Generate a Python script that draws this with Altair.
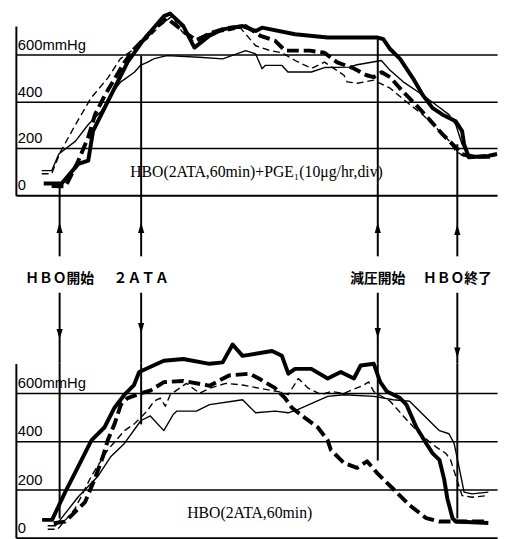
import altair as alt
import pandas as pd

# ---------------- data (time in minutes from HBO start, value in mmHg) ----------------
SERIES = ["thick solid", "thick dashed", "thin solid", "thin dashed"]

# upper panel: HBO(2ATA,60min)+PGE1
pge_ts_t = [-4.0, 0.5, 4.7, 7.2, 8.4, 12.1, 17.1, 21.2, 26.2, 27.8, 31.1, 33.9, 37.6, 41.0, 46.0, 49.3, 50.9,
            59.2, 67.4, 79.8, 81.4, 83.1, 85.6, 88.9, 91.3, 93.8, 96.3, 99.6, 101.2, 101.7, 102.9, 107.8, 110.0]
pge_ts_v = [50, 50, 134, 148, 274, 400, 568, 666, 764, 775, 722, 630, 680, 708, 722, 701, 715,
            687, 673, 673, 666, 624, 582, 498, 428, 372, 344, 316, 274, 218, 162, 168, 176]

pge_td_t = [-2.0, 1.5, 4.7, 7.2, 8.9, 11.4, 13.9, 16.3, 18.8, 22.0, 24.5, 27.0, 31.1, 34.4, 37.6, 41.8, 46.8, 50.5,
            54.2, 56.7, 62.9, 66.6, 69.8, 74.0, 77.2, 79.0, 81.0, 83.1, 86.4, 89.6, 93.0, 96.3, 99.5, 101.2, 103.7, 109.4]
pge_td_v = [40, 38, 147, 248, 344, 428, 499, 567, 625, 680, 722, 755, 700, 660, 690, 713, 722, 680,
            659, 617, 617, 608, 567, 541, 512, 504, 525, 504, 441, 386, 323, 260, 206, 176, 164, 164]

pge_ns_t = [-4.5, -2.0, -0.2, 4.0, 7.2, 10.4, 12.9, 15.3, 18.8, 20.3, 22.0, 23.8, 27.0, 35.1, 41.0, 46.8, 49.3, 50.9,
            51.7, 55.9, 57.4, 63.3, 66.6, 72.8, 74.8, 80.9, 83.1, 86.4, 91.3, 94.6, 97.9, 99.6, 101.2, 102.5, 105.0, 109.4]
pge_ns_v = [105, 105, 176, 231, 302, 357, 428, 483, 525, 554, 567, 583, 596, 589, 582, 617, 603, 540,
            554, 554, 526, 526, 545, 547, 557, 575, 533, 484, 428, 386, 344, 302, 218, 176, 168, 168]

pge_nd_t = [-4.5, -2.0, 0.2, 4.0, 7.9, 12.1, 15.3, 18.8, 22.0, 25.2, 28.2, 30.7, 33.2, 36.9, 41.8, 45.5, 49.3, 53.0,
            55.9, 59.2, 63.4, 66.6, 71.5, 72.3, 74.8, 79.0, 83.1, 87.1, 91.3, 95.5, 98.0, 99.5, 102.0, 105.4, 109.4]
pge_nd_v = [92, 92, 185, 302, 415, 500, 583, 625, 667, 722, 764, 700, 659, 688, 700, 713, 638, 617,
            608, 575, 541, 568, 512, 484, 478, 491, 457, 400, 344, 274, 232, 190, 164, 169, 176]

# lower panel: HBO(2ATA,60min)
hbo_ts_t = [-4.4, -1.9, 1.4, 4.7, 8.0, 11.3, 13.8, 16.3, 18.7, 20.0, 26.2, 31.1, 37.7, 41.0, 43.5, 46.0, 53.4, 55.9,
            57.5, 59.2, 63.3, 67.4, 70.7, 74.0, 75.7, 79.0, 80.6, 82.3, 85.6, 87.2, 89.7, 92.2, 93.8, 95.5, 96.7,
            97.5, 98.8, 99.6, 107.8]
hbo_ts_v = [74, 74, 189, 296, 404, 458, 539, 593, 633, 687, 734, 741, 721, 727, 801, 754, 774, 754,
            680, 700, 700, 660, 687, 660, 714, 721, 646, 606, 579, 552, 458, 391, 350, 323, 242,
            162, 81, 67, 61]

hbo_td_t = [-1.5, 1.4, 6.4, 8.8, 10.9, 12.1, 13.8, 15.4, 17.1, 20.4, 22.8, 26.2, 31.1, 37.7, 42.6, 47.8, 50.1, 54.2,
            56.7, 58.4, 61.6, 64.9, 67.4, 68.2, 71.5, 74.8, 77.3, 79.8, 83.9, 88.0, 92.2, 95.5, 100.4, 107.8]
hbo_td_v = [60, 67, 148, 242, 337, 404, 471, 552, 579, 599, 610, 645, 650, 630, 673, 680, 660, 620,
            579, 539, 498, 458, 404, 364, 310, 290, 317, 269, 202, 135, 81, 67, 67, 67]

hbo_ns_t = [-3.0, -1.0, 4.7, 9.7, 12.9, 16.3, 20.4, 22.8, 26.2, 28.6, 29.5, 34.4, 37.7, 43.5, 46.0, 49.3, 54.2, 57.5,
            60.0, 67.4, 71.5, 79.0, 83.9, 88.0, 91.3, 95.5, 97.9, 99.2, 100.4, 101.7, 103.7, 107.8]
hbo_ns_v = [50, 50, 170, 256, 337, 391, 485, 505, 444, 512, 525, 525, 552, 566, 572, 518, 525, 518,
            532, 586, 593, 586, 572, 566, 512, 444, 431, 391, 296, 189, 182, 189]

hbo_nd_t = [-3.0, -0.5, 3.9, 8.0, 12.1, 16.3, 18.7, 22.0, 23.7, 25.3, 26.6, 27.8, 31.9, 35.2, 37.7, 41.8, 46.0, 50.1,
            55.0, 57.5, 60.0, 62.5, 65.8, 68.2, 71.5, 76.5, 77.7, 79.0, 83.1, 86.4, 90.5, 94.6, 97.1, 98.3, 99.6,
            101.2, 103.7, 107.8]
hbo_nd_v = [35, 35, 121, 256, 364, 444, 471, 525, 566, 579, 545, 593, 640, 599, 620, 640, 633, 620,
            606, 593, 660, 620, 593, 606, 599, 633, 646, 606, 566, 505, 431, 377, 350, 323, 256,
            175, 168, 175]

# events
event_t = [0, 20.5, 80, 100]
event_label = ["ＨＢＯ開始", "２ＡＴＡ", "減圧開始", "ＨＢＯ終了"]
event_top_end = [40, 596, 673, 218]      # where the marker line meets the upper curves
event_bottom_end = [80, 470, 320, 80]    # where the marker line meets the lower curves

# connector band between the panels (0 = bottom of upper panel, 171 = top of lower panel)
band_upper_seg = [0, 62]
band_lower_seg = [99, 171]
band_label_pos = 85
band_up_arrow = [33, 33, 33, 35]
band_down_arrow = [141, 135, 140, 160]

tick_values = [0, 200, 400, 600]
tick_labels = ["0", "200", "400", "600mmHg"]

top_title = "HBO(2ATA,60min)+PGE₁(10μg/hr,div)"
top_title_pos = (49.5, 100)
bottom_title = "HBO(2ATA,60min)"
bottom_title_pos = (47.8, 101)

# ---------------- chart ----------------
W = 489
Y_MAX = 722
X_SCALE = alt.Scale(domain=[-11, 110], nice=False, zero=False)
Y_SCALE = alt.Scale(domain=[0, Y_MAX], nice=False)

x_axis = alt.Axis(labels=False, ticks=False, grid=False, domain=True, domainColor="black",
                  domainWidth=2, title=None)
y_axis = alt.Axis(values=[200, 400, 600], labels=False, ticks=False, grid=True, gridColor="black",
                  gridWidth=1.6, gridOpacity=1, domain=True, domainColor="black", domainWidth=2, title=None)

STYLE = {
    "thick solid": dict(strokeWidth=4),
    "thick dashed": dict(strokeWidth=4, strokeDash=[12, 5]),
    "thin solid": dict(strokeWidth=1.4),
    "thin dashed": dict(strokeWidth=1.4, strokeDash=[7, 4]),
}


def frame(parts):
    rows = []
    for name, ts, vs in parts:
        for t, v in zip(ts, vs):
            rows.append({"series": name, "t": t, "v": v})
    return pd.DataFrame(rows)


def panel(df, lo, hi, title, title_pos, height):
    X = alt.X("t:Q", scale=X_SCALE, axis=x_axis)
    Y = alt.Y("v:Q", scale=Y_SCALE, axis=y_axis)
    base = alt.Chart(df)
    line_layers = []
    for name in SERIES:
        line_layers.append(
            base.transform_filter(alt.datum.series == name)
            .mark_line(color="black", strokeJoin="round", **STYLE[name])
            .encode(x=X, y=Y)
        )
    ev = pd.DataFrame({"t": event_t, "lo": lo, "hi": hi})
    rules = alt.Chart(ev).mark_rule(color="black", strokeWidth=2).encode(
        x=X, y=alt.Y("lo:Q", scale=Y_SCALE, axis=y_axis), y2="hi:Q")
    tk = pd.DataFrame({"v": tick_values, "label": tick_labels})
    labels = alt.Chart(tk).mark_text(align="left", baseline="bottom", dx=2, dy=-2, font="Liberation Sans",
                                     fontSize=15, color="black").encode(
        x=alt.value(0), y=Y, text="label:N")
    tt = pd.DataFrame({"t": [title_pos[0]], "v": [title_pos[1]], "label": [title]})
    ttl = alt.Chart(tt).mark_text(font="Liberation Serif", fontSize=16, color="black",
                                  baseline="middle", align="center").encode(
        x=X, y=Y, text="label:N")
    return alt.layer(*line_layers, rules, labels, ttl).properties(width=W, height=height)


top_df = frame([(SERIES[0], pge_ts_t, pge_ts_v), (SERIES[1], pge_td_t, pge_td_v),
                (SERIES[2], pge_ns_t, pge_ns_v), (SERIES[3], pge_nd_t, pge_nd_v)])
bot_df = frame([(SERIES[0], hbo_ts_t, hbo_ts_v), (SERIES[1], hbo_td_t, hbo_td_v),
                (SERIES[2], hbo_ns_t, hbo_ns_v), (SERIES[3], hbo_nd_t, hbo_nd_v)])

top = panel(top_df, [0] * 4, event_top_end, top_title, top_title_pos, 172)
bottom = panel(bot_df, event_bottom_end, [Y_MAX] * 4, bottom_title, bottom_title_pos, 177)

# connector band
BAND_SCALE = alt.Scale(domain=[0, 171], reverse=True, nice=False, zero=False)
segs = []
for t in event_t:
    segs.append({"t": t, "a": band_upper_seg[0], "b": band_upper_seg[1]})
    segs.append({"t": t, "a": band_lower_seg[0], "b": band_lower_seg[1]})
seg_df = pd.DataFrame(segs)
arr_df = pd.DataFrame(
    [{"t": t, "p": p, "dir": "up"} for t, p in zip(event_t, band_up_arrow)]
    + [{"t": t, "p": p, "dir": "down"} for t, p in zip(event_t, band_down_arrow)])
lab_df = pd.DataFrame({"t": event_t, "label": event_label, "p": [band_label_pos] * 4})

BX = alt.X("t:Q", scale=X_SCALE, axis=None)
BY = alt.Y("p:Q", scale=BAND_SCALE, axis=None)
seg_layer = alt.Chart(seg_df).mark_rule(color="black", strokeWidth=2).encode(
    x=BX, y=alt.Y("a:Q", scale=BAND_SCALE, axis=None), y2="b:Q")
up_layer = alt.Chart(arr_df).transform_filter("datum.dir == 'up'").mark_point(
    shape="M0,-1L0.6,1L-0.6,1Z", filled=True, color="black", opacity=1, size=110).encode(x=BX, y=BY)
down_layer = alt.Chart(arr_df).transform_filter("datum.dir == 'down'").mark_point(
    shape="M0,1L0.6,-1L-0.6,-1Z", filled=True, color="black", opacity=1, size=110).encode(x=BX, y=BY)
lab_layer = alt.Chart(lab_df).mark_text(font="Noto Sans CJK JP", fontSize=14, fontWeight="bold",
                                        color="black", baseline="middle", align="center").encode(
    x=BX, y=BY, text="label:N")
band = alt.layer(seg_layer, up_layer, down_layer, lab_layer).properties(width=W, height=171)

chart = alt.vconcat(top, band, bottom, spacing=0, bounds="flush").properties(
    padding={"left": 7, "top": -2, "right": 2, "bottom": 0}
).configure_view(stroke="transparent")

chart.save("out.html", embed_options={"renderer": "svg", "actions": False})
